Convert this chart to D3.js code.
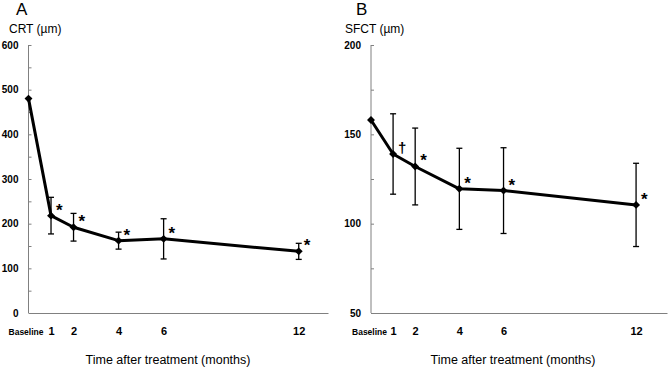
<!DOCTYPE html>
<html>
<head>
<meta charset="utf-8">
<script src="https://cdn.jsdelivr.net/npm/d3@7"></script>
<style>
  body { margin: 0; background: #fff; }
  svg { font-family: "Liberation Sans", Arial, sans-serif; }
  .tickLab text { font-weight: bold; font-size: 10px; fill: #000; }
</style>
</head>
<body>
<div id="chart"></div>
<script>
var svgWidth = 669;
var svgHeight = 368;

// months after treatment (0 = baseline)
var months = [0, 1, 2, 4, 6, 12];
var monthLabels = ["Baseline", "1", "2", "4", "6", "12"];

// panel A: central retinal thickness
var crtMean = [480, 218, 192, 162, 166, 138];
var crtErr = [null, 41, 31, 19, 45, 18];
var crtMarks = ["", "*", "*", "*", "*", "*"];

// panel B: subfoveal choroidal thickness
var sfctMean = [158, 139, 132, 119.5, 118.5, 110.5];
var sfctErr = [null, 22.5, 21.5, 22.7, 24, 23.3];
var sfctMarks = ["", "\u2020", "*", "*", "*", "*"];

var svg = d3.select("#chart")
  .append("svg")
  .attr("width", svgWidth)
  .attr("height", svgHeight);

function drawPanel(opt) {
  var x = d3.scaleLinear()
    .domain([0, opt.xMax])
    .range([opt.left, opt.right]);

  var y = d3.scaleLinear()
    .domain(opt.yDomain)
    .range([313, 45]);

  var g = svg.append("g");

  // y axis
  var leftAxis = d3.axisLeft(y)
    .tickValues(d3.range(opt.yDomain[0], opt.yDomain[1] + 0.1, opt.minorStep))
    .tickSize(-3)
    .tickPadding(10)
    .tickFormat(function(d) { return (d - opt.yDomain[0]) % opt.majorStep === 0 ? d : ""; });

  var yAx = g.append("g")
    .attr("class", "tickLab")
    .attr("transform", `translate(${opt.left}, 0)`)
    .call(leftAxis);
  yAx.select(".domain").attr("stroke", "#808080").attr("d", `M0,45V313`);
  yAx.selectAll(".tick line").attr("stroke", "#808080");

  // x axis
  var bottomAxis = d3.axisBottom(x)
    .tickValues(months)
    .tickSize(0)
    .tickPadding(14)
    .tickFormat(function(d, i) { return monthLabels[i]; });

  var xAx = g.append("g")
    .attr("class", "tickLab")
    .attr("transform", `translate(0, 313)`)
    .call(bottomAxis);
  xAx.select(".domain").attr("stroke", "#808080");
  xAx.selectAll(".tick text")
    .style("font-size", function(d) { return d === 0 ? "8.5px" : "11px"; })
    .attr("dy", function(d) { return d === 0 ? "0.9em" : "0.71em"; })
    .attr("dx", function(d) { return d === 0 ? opt.baseDx : 0; });

  // error bars
  var errData = months.map(function(m, i) {
    return { m: m, mean: opt.mean[i], err: opt.err[i] };
  }).filter(function(d) { return d.err !== null; });

  var eb = g.selectAll(".err")
    .data(errData)
    .enter()
    .append("g")
    .attr("stroke", "#000")
    .attr("stroke-width", 1.3);

  eb.append("line")
    .attr("x1", d => x(d.m)).attr("x2", d => x(d.m))
    .attr("y1", d => y(d.mean - d.err)).attr("y2", d => y(d.mean + d.err));
  eb.append("line")
    .attr("x1", d => x(d.m) - 3).attr("x2", d => x(d.m) + 3)
    .attr("y1", d => y(d.mean + d.err)).attr("y2", d => y(d.mean + d.err));
  eb.append("line")
    .attr("x1", d => x(d.m) - 3).attr("x2", d => x(d.m) + 3)
    .attr("y1", d => y(d.mean - d.err)).attr("y2", d => y(d.mean - d.err));

  // mean line
  var line = d3.line()
    .x(function(d, i) { return x(months[i]); })
    .y(function(d) { return y(d); });

  g.append("path")
    .datum(opt.mean)
    .attr("fill", "none")
    .attr("stroke", "#000")
    .attr("stroke-width", 3)
    .attr("stroke-linejoin", "round")
    .attr("d", line);

  // diamond markers
  g.selectAll(".pt")
    .data(opt.mean)
    .enter()
    .append("path")
    .attr("d", d3.symbol().type(d3.symbolDiamond2).size(40))
    .attr("transform", (d, i) => `translate(${x(months[i])}, ${y(d)})`)
    .attr("fill", "#000");

  // significance marks
  g.selectAll(".sig")
    .data(opt.mean)
    .enter()
    .append("text")
    .attr("x", (d, i) => x(months[i]) + 5)
    .attr("y", (d, i) => y(d) + (opt.marks[i] === "*" ? 0 : -1))
    .style("font-size", (d, i) => opt.marks[i] === "*" ? "17px" : "15px")
    .style("font-weight", "bold")
    .text((d, i) => opt.marks[i]);

  // panel letter and y title
  g.append("text")
    .attr("x", opt.letterX)
    .attr("y", 15)
    .style("font-size", "17px")
    .text(opt.letter);

  g.append("text")
    .attr("x", opt.titleX)
    .attr("y", 33)
    .style("font-size", "12px")
    .text(opt.yTitle);

  g.append("text")
    .attr("x", opt.xTitleX)
    .attr("y", 364)
    .style("text-anchor", "middle")
    .style("font-size", "12.5px")
    .text("Time after treatment (months)");
}

drawPanel({
  left: 28.5, right: 328, xMax: 13.3,
  yDomain: [0, 600], minorStep: 50, majorStep: 100,
  mean: crtMean, err: crtErr, marks: crtMarks,
  letter: "A", letterX: 16, titleX: 9, yTitle: "CRT (\u00b5m)",
  xTitleX: 168, baseDx: -3
});

drawPanel({
  left: 371, right: 667, xMax: 13.4,
  yDomain: [50, 200], minorStep: 25, majorStep: 50,
  mean: sfctMean, err: sfctErr, marks: sfctMarks,
  letter: "B", letterX: 356, titleX: 345, yTitle: "SFCT (\u00b5m)",
  xTitleX: 513, baseDx: -2
});
</script>
</body>
</html>
